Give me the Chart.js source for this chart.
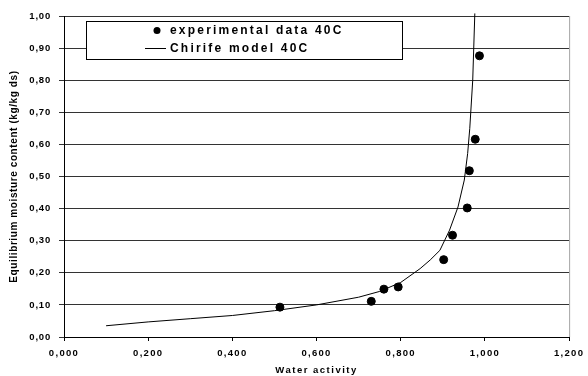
<!DOCTYPE html>
<html>
<head>
<meta charset="utf-8">
<script src="https://cdn.jsdelivr.net/npm/chart.js@4/dist/chart.umd.min.js"></script>
<style>
  html, body { margin: 0; background: #fff; }
</style>
</head>
<body>
<canvas id="chart" width="588" height="376"></canvas>
<script>
// Sorption isotherm at 40C: measured points and Chirife model curve
const seriesNames = ['experimental data 40C', 'Chirife model 40C'];

const expX = [0.513, 0.730, 0.760, 0.794, 0.902, 0.923, 0.958, 0.963, 0.977, 0.987];
const expY = [0.093, 0.111, 0.149, 0.156, 0.241, 0.317, 0.402, 0.518, 0.616, 0.876];

const modelX = [0.10, 0.20, 0.30, 0.40, 0.50, 0.60, 0.70, 0.75, 0.80, 0.846, 0.87, 0.893, 0.916, 0.936, 0.951, 0.959, 0.964, 0.971, 0.976];
const modelY = [0.035, 0.047, 0.057, 0.067, 0.082, 0.100, 0.124, 0.142, 0.170, 0.213, 0.240, 0.270, 0.333, 0.405, 0.489, 0.572, 0.650, 0.800, 1.008];

const xTicks = [0, 0.2, 0.4, 0.6, 0.8, 1.0, 1.2];
const yTicks = [0, 0.1, 0.2, 0.3, 0.4, 0.5, 0.6, 0.7, 0.8, 0.9, 1.0];

const FONT = "'Liberation Sans', Arial, sans-serif";
const fmt = (v, d) => v.toFixed(d).replace('.', ',');

// wrap a scale method so its text gets some letter spacing
function spaced(scale, name, sp) {
  const orig = scale[name].bind(scale);
  scale[name] = function (...args) {
    const ctx = scale.ctx;
    ctx.letterSpacing = sp;
    orig(...args);
    ctx.letterSpacing = '0px';
  };
}

const spacingPlugin = {
  id: 'spacing',
  beforeDraw(chart) {
    const { x, y } = chart.scales;
    if (!x._spaced) {
      spaced(x, 'drawLabels', '1.3px');
      spaced(x, 'drawTitle', '1.5px');
      spaced(y, 'drawLabels', '0.8px');
      spaced(y, 'drawTitle', '0.6px');
      x._spaced = true;
    }
  }
};

const framePlugin = {
  id: 'frame',
  beforeDatasetsDraw(chart) {
    const { ctx, chartArea: a } = chart;
    ctx.save();
    ctx.strokeStyle = '#a6a6a6';
    ctx.lineWidth = 1;
    ctx.beginPath();
    ctx.moveTo(a.right + 0.5, a.top);
    ctx.lineTo(a.right + 0.5, a.bottom);
    ctx.stroke();
    ctx.restore();
  }
};

// boxed legend inside the plot, like the spreadsheet one
const legendBox = {
  id: 'legendBox',
  afterDatasetsDraw(chart) {
    const { ctx } = chart;
    const left = 86, top = 21, w = 316, h = 38;
    ctx.save();
    ctx.fillStyle = '#fff';
    ctx.fillRect(left, top, w, h);
    ctx.strokeStyle = '#000';
    ctx.lineWidth = 1;
    ctx.strokeRect(left + 0.5, top + 0.5, w, h);

    ctx.font = 'bold 12px ' + FONT;
    ctx.letterSpacing = '2.2px';
    ctx.textBaseline = 'middle';
    ctx.fillStyle = '#000';
    const rows = [30.5, 48.5];
    chart.data.datasets.forEach((ds, i) => {
      const ry = rows[i];
      if (i === 0) {
        ctx.beginPath();
        ctx.arc(157, ry, 3.5, 0, Math.PI * 2);
        ctx.fill();
      } else {
        ctx.beginPath();
        ctx.moveTo(145, ry);
        ctx.lineTo(166, ry);
        ctx.stroke();
      }
      ctx.fillText(ds.label, 170, ry + 0.5);
    });
    ctx.restore();
  }
};

new Chart(document.getElementById('chart'), {
  type: 'scatter',
  data: {
    datasets: [
      {
        label: seriesNames[0],
        data: expX.map((x, i) => ({ x, y: expY[i] })),
        pointRadius: 4,
        pointHoverRadius: 4,
        pointBackgroundColor: '#000',
        pointBorderColor: '#000',
        showLine: false,
        order: 1
      },
      {
        label: seriesNames[1],
        data: modelX.map((x, i) => ({ x, y: modelY[i] })),
        showLine: true,
        borderColor: '#000',
        borderWidth: 1,
        pointRadius: 0,
        tension: 0,
        clip: 4,
        order: 2
      }
    ]
  },
  options: {
    responsive: false,
    animation: false,
    layout: { padding: { top: 16, right: 12, left: 0, bottom: 0 } },
    plugins: {
      legend: { display: false },
      tooltip: { enabled: false }
    },
    scales: {
      x: {
        type: 'linear',
        min: 0,
        max: 1.2,
        afterBuildTicks: s => { s.ticks = xTicks.map(v => ({ value: v })); },
        afterFit: s => { s.height = 39; },
        grid: {
          drawOnChartArea: false,
          drawTicks: true,
          tickLength: 4,
          color: '#000'
        },
        border: { color: '#000', width: 1 },
        ticks: {
          color: '#000',
          padding: 7,
          maxRotation: 0,
          font: { family: FONT, size: 9.5, weight: 'bold' },
          callback: v => fmt(v, 3)
        },
        title: {
          display: true,
          text: 'Water activity',
          color: '#000',
          font: { family: FONT, size: 9.5, weight: 'bold' },
          padding: { top: 0, bottom: 0 }
        }
      },
      y: {
        type: 'linear',
        min: 0,
        max: 1.0,
        afterBuildTicks: s => { s.ticks = yTicks.map(v => ({ value: v })); },
        afterFit: s => { s.width = 64; },
        grid: {
          color: '#333',
          lineWidth: 1,
          drawTicks: true,
          tickLength: 5
        },
        border: { color: '#000', width: 1 },
        ticks: {
          color: '#000',
          padding: 8,
          font: { family: FONT, size: 9.5, weight: 'bold' },
          callback: v => fmt(v, 2)
        },
        title: {
          display: true,
          text: 'Equilibrium moisture content (kg/kg ds)',
          color: '#000',
          font: { family: FONT, size: 10, weight: 'bold' },
          padding: { top: 8, bottom: 0 }
        }
      }
    }
  },
  plugins: [spacingPlugin, framePlugin, legendBox]
});
</script>
</body>
</html>
